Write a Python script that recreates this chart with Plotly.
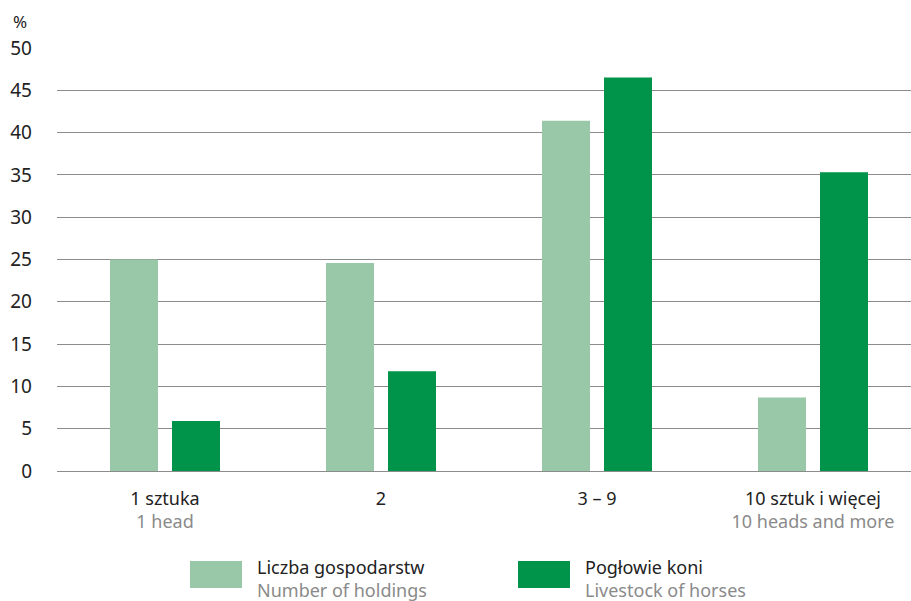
import plotly.graph_objects as go

categories = ["1 sztuka", "2", "3 – 9", "10 sztuk i więcej"]
categories_en = ["1 head", "", "", "10 heads and more"]
holdings = [25.0, 24.6, 41.4, 8.7]
horses = [5.9, 11.8, 46.5, 35.3]
series_pl = ["Liczba gospodarstw", "Pogłowie koni"]
series_en = ["Number of holdings", "Livestock of horses"]
y_ticks = [0, 5, 10, 15, 20, 25, 30, 35, 40, 45, 50]

LIGHT = "#98C8A7"
DARK = "#00944A"
GREY_TXT = "#8a8a8a"
FONT = "Noto Sans"
W, H = 911, 601
L, R, T, B = 57, 0, 48, 130
PW, PH = W - L - R, H - T - B

def px(x):
    return (x - L) / PW

def py(y):
    return (H - B - y) / PH

xs = list(range(len(categories)))
fig = go.Figure()
fig.add_trace(go.Bar(x=xs, y=holdings, name=series_pl[0], marker=dict(color=LIGHT, line=dict(width=0)),
                     width=48 / 216, offset=-55 / 216, showlegend=False, hoverinfo="skip"))
fig.add_trace(go.Bar(x=xs, y=horses, name=series_pl[1], marker=dict(color=DARK, line=dict(width=0)),
                     width=48 / 216, offset=7 / 216, showlegend=False, hoverinfo="skip"))

ticktext = []
for pl, en in zip(categories, categories_en):
    ticktext.append(pl + "<br><span style='color:" + GREY_TXT + "'>" + (en if en else " ") + "</span>")

fig.update_layout(
    width=W, height=H,
    margin=dict(l=L, r=R, t=T, b=B, autoexpand=False),
    plot_bgcolor="white", paper_bgcolor="white",
    font=dict(family=FONT, size=18, color="#222"),
    barmode="overlay",
    xaxis=dict(range=[-0.5, -0.5 + PW / 216], tickmode="array", tickvals=xs, ticktext=ticktext,
               showgrid=False, zeroline=False, showline=False, ticks="", ticklabelstandoff=15,
               tickfont=dict(size=18, color="#222")),
    yaxis=dict(range=[0, 50], tickmode="array", tickvals=y_ticks, showgrid=True,
               gridcolor="#8c8c8c", gridwidth=1.3, zeroline=True, zerolinecolor="#8c8c8c",
               zerolinewidth=1.3, showline=False, ticks="", ticklabelstandoff=24,
               tickfont=dict(size=19, color="#222")),
)

fig.add_annotation(text="%", xref="paper", yref="paper", x=px(11), y=py(21), xanchor="left",
                   yanchor="middle", showarrow=False, font=dict(size=17, color="#222"))

swatches = [(190, 242), (518, 570)]
for (x0, x1), color, pl, en in zip(swatches, [LIGHT, DARK], series_pl, series_en):
    fig.add_shape(type="rect", xref="paper", yref="paper", x0=px(x0), x1=px(x1),
                  y0=py(588), y1=py(561), fillcolor=color, line=dict(width=0))
    fig.add_annotation(text=pl + "<br><span style='color:" + GREY_TXT + "'>" + en + "</span>",
                       xref="paper", yref="paper", x=px(x1 + 13), y=py(553),
                       xanchor="left", yanchor="top", align="left", showarrow=False,
                       font=dict(size=18, color="#222"))

fig.write_html("out.html", config={"displayModeBar": False},
               post_script="document.body.style.margin='0';document.body.style.overflow='hidden';")
